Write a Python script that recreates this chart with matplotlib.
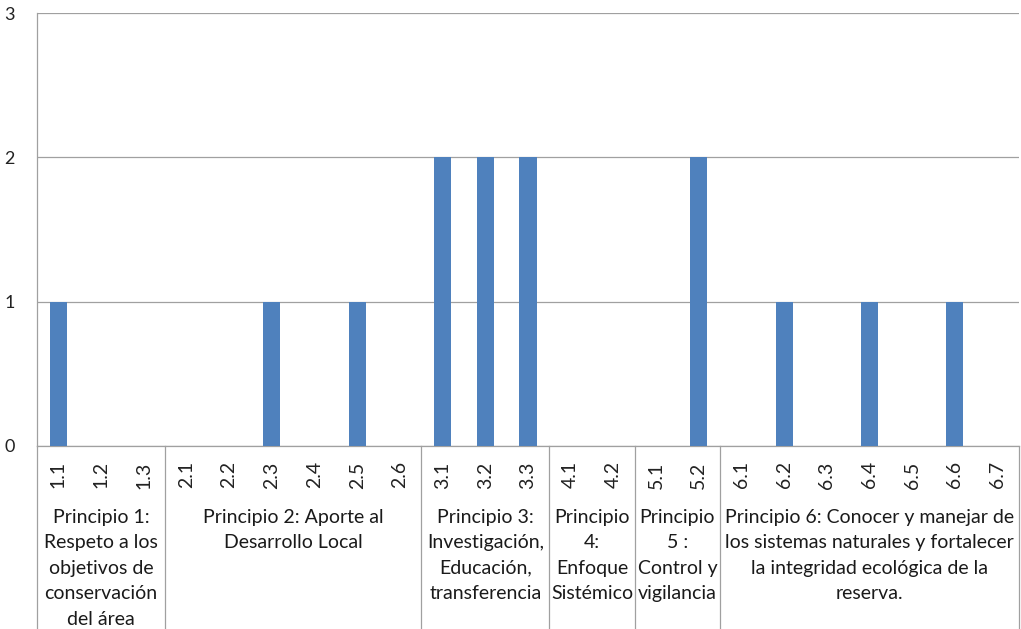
import matplotlib
matplotlib.use("Agg")
import matplotlib.pyplot as plt
from matplotlib.transforms import blended_transform_factory

categories = ["1.1", "1.2", "1.3",
              "2.1", "2.2", "2.3", "2.4", "2.5", "2.6",
              "3.1", "3.2", "3.3",
              "4.1", "4.2",
              "5.1", "5.2",
              "6.1", "6.2", "6.3", "6.4", "6.5", "6.6", "6.7"]
values = [1, 0, 0,
          0, 0, 1, 0, 1, 0,
          2, 2, 2,
          0, 0,
          0, 2,
          0, 1, 0, 1, 0, 1, 0]
group_labels = [
    "Principio 1:\nRespeto a los\nobjetivos de\nconservación\ndel área",
    "Principio 2: Aporte al\nDesarrollo Local",
    "Principio 3:\nInvestigación,\nEducación,\ntransferencia",
    "Principio\n4:\nEnfoque\nSistémico",
    "Principio\n5 :\nControl y\nvigilancia",
    "Principio 6: Conocer y manejar de\nlos sistemas naturales y fortalecer\nla integridad ecológica de la\nreserva.",
]
group_sizes = [3, 6, 3, 2, 2, 7]
y_ticks = [0, 1, 2, 3]

plt.rcParams['font.family'] = ['Lato', 'DejaVu Sans']

W, H = 1021, 629
fig = plt.figure(figsize=(W / 100, H / 100), dpi=100)
ax = fig.add_axes([37 / W, 183 / H, (1019 - 37) / W, (446 - 13) / H])

x = list(range(len(categories)))
ax.bar(x, values, width=0.4, color="#4F81BD", zorder=3)

ax.set_xlim(-0.5, len(categories) - 0.5)
ax.set_ylim(0, 3)
ax.set_yticks(y_ticks)
ax.set_yticklabels([str(t) for t in y_ticks], fontsize=13, color="#222222")
ax.set_xticks(x)
ax.set_xticklabels(categories, rotation=90, fontsize=14, color="#222222")
ax.tick_params(axis="both", length=0)
ax.tick_params(axis="y", pad=16)
ax.tick_params(axis="x", pad=11)
ax.yaxis.grid(True, color="#A0A0A0", linewidth=0.9, zorder=0)
for s in ["top", "right"]:
    ax.spines[s].set_visible(False)
ax.spines["left"].set_color("#A0A0A0")
ax.spines["bottom"].set_color("#A0A0A0")
ax.spines["left"].set_linewidth(0.9)
ax.spines["bottom"].set_linewidth(0.9)

trans = blended_transform_factory(ax.transData, fig.transFigure)
bounds = [-0.5]
for g in group_sizes:
    bounds.append(bounds[-1] + g)
for b in bounds:
    ax.plot([b, b], [183 / H, 0], transform=trans, color="#A0A0A0",
            linewidth=0.9, clip_on=False)
for i, lab in enumerate(group_labels):
    cx = (bounds[i] + bounds[i + 1]) / 2
    ax.text(cx, (H - 509) / H, lab, transform=trans, ha="center", va="top",
            fontsize=14, color="#1a1a1a", linespacing=1.6)

fig.savefig("out.png", dpi=100)
